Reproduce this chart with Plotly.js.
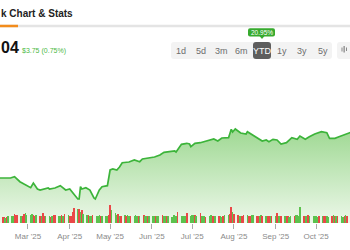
<!DOCTYPE html>
<html>
<head>
<meta charset="utf-8">
<script src="https://cdn.plot.ly/plotly-3.0.1.min.js"></script>
<style>
html,body{margin:0;padding:0;background:#fff;overflow:hidden;}
#chart{width:350px;height:250px;}
</style>
</head>
<body>
<div id="chart"></div>
<script>
// ---------- data ----------
const priceDates = [
 '2025-02-03','2025-02-08','2025-02-12','2025-02-16','2025-02-18','2025-02-19','2025-02-23','2025-02-27',
 '2025-03-03','2025-03-05','2025-03-08','2025-03-10','2025-03-14','2025-03-16','2025-03-17','2025-03-21','2025-03-25','2025-03-29',
 '2025-04-01','2025-04-05','2025-04-07','2025-04-08','2025-04-09','2025-04-10','2025-04-13','2025-04-16','2025-04-19','2025-04-20','2025-04-23','2025-04-25','2025-04-29',
 '2025-05-01','2025-05-03','2025-05-06','2025-05-08','2025-05-10','2025-05-15','2025-05-19','2025-05-23','2025-05-25','2025-05-30',
 '2025-06-03','2025-06-07','2025-06-10','2025-06-14','2025-06-18','2025-06-19','2025-06-23','2025-06-27','2025-06-29','2025-06-30',
 '2025-07-03','2025-07-07','2025-07-10','2025-07-14','2025-07-17','2025-07-20','2025-07-23','2025-07-28','2025-07-30','2025-07-31',
 '2025-08-02','2025-08-06','2025-08-10','2025-08-11','2025-08-15','2025-08-19','2025-08-22','2025-08-25','2025-08-27','2025-08-30',
 '2025-09-02','2025-09-05','2025-09-09','2025-09-13','2025-09-17','2025-09-19','2025-09-23','2025-09-26','2025-09-30',
 '2025-10-05','2025-10-09','2025-10-11','2025-10-15','2025-10-18','2025-10-22','2025-10-26','2025-10-30'
];
const priceValues = [
 404, 403.4, 404, 404, 406, 406.6, 396.6, 390,
 384.6, 394, 382, 380, 382, 384, 382, 384, 388.6, 380,
 382, 370, 362, 362, 386.6, 382, 384.6, 380, 364, 362, 380, 386.6, 388.6,
 420, 422, 420, 426, 434.6, 436, 440, 436.6, 442, 444,
 446, 450, 455.4, 456.6, 458, 456, 471.4, 473.4, 472, 466.6,
 473.4, 474.6, 476.6, 480, 482, 478, 484, 484.6, 501.4, 496,
 502, 494, 492, 496.6, 490, 484.6, 478, 480, 476.6, 481.4,
 480, 472, 474.6, 484.6, 481.4, 488, 481.4, 486.6, 492,
 496.6, 494.6, 483.4, 483.4, 486.6, 491.4, 494.6, 498
];

// trading-day volume (millions) per month, and up(g)/down(r) flags
const volMonths = ['2025-02','2025-03','2025-04','2025-05','2025-06','2025-07','2025-08','2025-09','2025-10'];
const volumes = [
 [3.2,3.0,2.8,3.1,2.9, 2.8,3.0,2.6,2.9,3.1, 3.4,3.3,4.1,3.9,3.6, 3.3,3.5,4.4,4.6,3.8],
 [3.6,4.3,3.9,3.4,3.6, 3.2,3.4,4.6,3.5,3.1, 3.3,3.0,3.4,3.6,4.0, 3.5,3.2,3.8,3.4,4.1, 3.9],
 [3.2,3.5,5.2,6.9,6.5, 6.8,5.4,6.2,4.4,3.6, 3.7,3.5,3.3,3.8,3.4, 3.2,3.6,3.4,3.1,3.3, 3.5,3.9],
 [8.6,6.0,4.8,3.9,4.2, 3.5,3.4,3.6,3.2,3.9, 3.4,3.3,3.2,3.7,3.5, 3.3,3.1,3.6,3.4,3.3, 3.2,3.5],
 [3.3,3.1,3.4,3.2,3.5, 3.6,3.3,3.1,3.4,3.2, 3.0,3.6,3.9,3.5,5.3, 3.2,3.4,3.1,3.3,4.6, 3.4],
 [3.8,3.8,3.6,3.4,4.6, 3.5,3.3,3.2,3.0,3.4, 3.6,3.2,3.1,3.5,3.3, 3.4,3.0,3.2,3.6,3.6, 4.1,7.4,5.0],
 [4.2,3.6,3.4,3.3,3.5, 3.8,3.6,3.4,3.3,3.9, 3.7,3.5,3.2,3.4,3.6, 3.3,3.1,3.4,3.5,3.2, 3.4],
 [3.3,4.6,3.3,3.1,3.4, 3.3,3.2,3.5,3.0,3.4, 3.3,3.6,3.9,3.4,7.5, 3.2,3.5,3.3,3.6,3.3, 3.1,3.4],
 [3.2,3.0,3.4,3.1,3.3, 3.5,3.2,3.0,3.4,3.6, 3.1,3.3,3.5,3.2,3.0, 3.4,3.6,3.3,3.1,3.2, 3.4,3.5,3.3]
];
const directions = [
 'rgrggrrgrgggrrrgrrgg',
 'ggrrgrgrrggrgrrggrgrg',
 'rrrrgrgrggrggrgggrgggr',
 'rgggrgrgrggrgggrgrggrg',
 'ggrggrggrgggggrggggrg',
 'ggrgrgggrggrrgrggrggrrg',
 'rrggrrgrrggrrggrgrrgr',
 'grggrgrrggrggggrggrggg',
 'ggrgrrggrgrgrggrgrrgggr'
];
const rangeButtons = ['1d','5d','3m','6m','YTD','1y','3y','5y'];
const tickLabelFormat = "%b '%y";
const headerTitle = 'k Chart &amp; Stats';
const priceText = '04';
const changeText = '$3.75 (0.75%)';
const ytdText = '20.95%';

// ---------- build volume series ----------
const volDates = [], volVals = [], volColors = [];
volMonths.forEach((m, mi) => {
  const [yy, mm] = m.split('-').map(Number);
  const days = new Date(Date.UTC(yy, mm, 0)).getUTCDate();
  let k = 0;
  for (let d = 1; d <= days; d++) {
    const dow = new Date(Date.UTC(yy, mm - 1, d)).getUTCDay();
    if (dow === 0 || dow === 6) continue;
    if (mi === 0 && d < 3) continue;
    if (k >= volumes[mi].length) break;
    volDates.push(m + '-' + String(d).padStart(2, '0'));
    volVals.push(volumes[mi][k]);
    volColors.push(directions[mi][k] === 'g' ? '#5cc24e' : '#ea4848');
    k++;
  }
});

// ---------- helpers (pixel -> paper) ----------
const W = 350, H = 250;
const px = v => v / W;
const py = v => 1 - v / H;
function rrect(x0, y0, x1, y1, r) {
  const X = px, Y = py;
  return 'M' + X(x0 + r) + ',' + Y(y0) +
    ' L' + X(x1 - r) + ',' + Y(y0) + ' Q' + X(x1) + ',' + Y(y0) + ' ' + X(x1) + ',' + Y(y0 + r) +
    ' L' + X(x1) + ',' + Y(y1 - r) + ' Q' + X(x1) + ',' + Y(y1) + ' ' + X(x1 - r) + ',' + Y(y1) +
    ' L' + X(x0 + r) + ',' + Y(y1) + ' Q' + X(x0) + ',' + Y(y1) + ' ' + X(x0) + ',' + Y(y1 - r) +
    ' L' + X(x0) + ',' + Y(y0 + r) + ' Q' + X(x0) + ',' + Y(y0) + ' ' + X(x0 + r) + ',' + Y(y0) + ' Z';
}

const FONT = 'Liberation Sans, Arial, sans-serif';

const traces = [
  {
    x: priceDates, y: priceValues, type: 'scatter', mode: 'lines',
    line: {color: '#3cb43a', width: 1.7, shape: 'linear'},
    fill: 'tozeroy',
    fillgradient: {type: 'vertical', start: 312, stop: 500,
      colorscale: [[0, '#edf8ea'], [1, '#a0d994']]},
    xaxis: 'x', yaxis: 'y', hoverinfo: 'skip'
  },
  {
    x: volDates, y: volVals, type: 'bar',
    marker: {color: volColors, line: {width: 0}},
    width: 86400000 * 1.15,
    xaxis: 'x', yaxis: 'y2', hoverinfo: 'skip'
  }
];

const shapes = [
  // header underline
  {type: 'line', xref: 'paper', yref: 'paper', x0: px(-5), x1: px(355), y0: py(26), y1: py(26), line: {color: '#e4e4e4', width: 2.5}},
  {type: 'line', xref: 'paper', yref: 'paper', x0: px(-5), x1: px(18), y0: py(26), y1: py(26), line: {color: '#f28c1c', width: 2.5}},
  // range button bar
  {type: 'path', xref: 'paper', yref: 'paper', path: rrect(171, 42, 332, 59, 3), fillcolor: '#f3f3f3', line: {width: 0}},
  {type: 'path', xref: 'paper', yref: 'paper', path: rrect(253, 42, 271, 59, 3), fillcolor: '#5e5e5e', line: {width: 0}},
  // badge
  {type: 'path', xref: 'paper', yref: 'paper', path: rrect(248, 28.3, 275, 36.5, 2), fillcolor: '#37aa2e', line: {width: 0}},
  {type: 'path', xref: 'paper', yref: 'paper', path: 'M' + px(259.5) + ',' + py(36) + ' L' + px(264.5) + ',' + py(36) + ' L' + px(262) + ',' + py(39) + ' Z', fillcolor: '#37aa2e', line: {width: 0}},
  // chart-type box
  {type: 'path', xref: 'paper', yref: 'paper', path: rrect(337, 42, 356, 59, 3), fillcolor: '#f3f3f3', line: {width: 0}},
  {type: 'rect', xref: 'paper', yref: 'paper', x0: px(341.5), x1: px(342.5), y0: py(47.5), y1: py(51.5), fillcolor: '#888', line: {width: 0}},
  {type: 'rect', xref: 'paper', yref: 'paper', x0: px(343.5), x1: px(344.8), y0: py(46), y1: py(52.5), fillcolor: '#888', line: {width: 0}},
  {type: 'rect', xref: 'paper', yref: 'paper', x0: px(346), x1: px(347), y0: py(47.5), y1: py(51), fillcolor: '#888', line: {width: 0}}
];

const btnCenters = [181, 201, 221.5, 241.7, 262, 282, 302, 322.5];
const annotations = [
  {text: '<b>' + headerTitle + '</b>', xref: 'paper', yref: 'paper', x: px(-1.5), y: py(13.5), xanchor: 'left', yanchor: 'middle', showarrow: false,
   font: {family: FONT, size: 10, color: '#222'}},
  {text: '<b>' + priceText + '</b>', xref: 'paper', yref: 'paper', x: px(-1.5), y: py(47.5), xanchor: 'left', yanchor: 'middle', showarrow: false,
   font: {family: FONT, size: 16, color: '#111'}},
  {text: changeText, xref: 'paper', yref: 'paper', x: px(20), y: py(51.5), xanchor: 'left', yanchor: 'middle', showarrow: false,
   font: {family: FONT, size: 7, color: '#4cb944'}},
  {text: ytdText, xref: 'paper', yref: 'paper', x: px(261.5), y: py(32.4), xanchor: 'center', yanchor: 'middle', showarrow: false,
   font: {family: FONT, size: 6.5, color: '#ffffff'}}
];
rangeButtons.forEach((b, i) => {
  annotations.push({text: b, xref: 'paper', yref: 'paper', x: px(btnCenters[i]), y: py(50.7), xanchor: 'center', yanchor: 'middle', showarrow: false,
    font: {family: FONT, size: 9, color: b === 'YTD' ? '#ffffff' : '#6d6d6d'}});
});

const layout = {
  width: W, height: H,
  margin: {l: 0, r: 0, t: 0, b: 0, pad: 0},
  paper_bgcolor: '#ffffff', plot_bgcolor: 'rgba(0,0,0,0)',
  showlegend: false,
  bargap: 0,
  xaxis: {
    type: 'date', range: ['2025-02-08 05:00', '2025-10-26 05:00'],
    tick0: '2025-01-01', dtick: 'M1', tickformat: tickLabelFormat,
    ticks: 'outside', ticklen: 5, tickwidth: 1, tickcolor: '#aaaaaa',
    showgrid: false, zeroline: false, showline: false,
    tickfont: {family: FONT, size: 8, color: '#8a8a8a'},
    anchor: 'y2', fixedrange: true
  },
  yaxis: {domain: [py(223), py(60)], range: [314, 640], visible: false, showgrid: false, zeroline: false, fixedrange: true},
  yaxis2: {domain: [py(223), py(203)], range: [0, 9.5], visible: false, showgrid: false, zeroline: false, fixedrange: true},
  shapes: shapes,
  annotations: annotations
};

Plotly.newPlot('chart', traces, layout, {displayModeBar: false, staticPlot: true});
</script>
</body>
</html>
